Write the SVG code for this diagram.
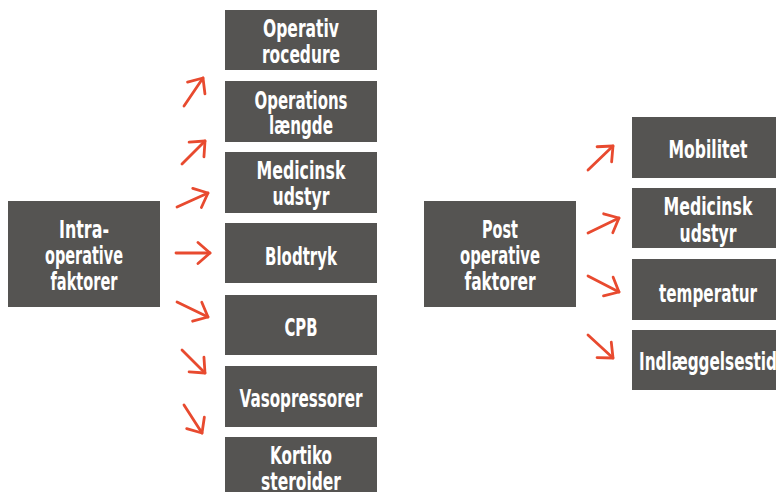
<svg xmlns="http://www.w3.org/2000/svg" width="776" height="492" viewBox="0 0 776 492">
  <defs>
    <style>
      .box { fill: #555452; }
      .t { font-family: "DejaVu Sans", "Liberation Sans", sans-serif; font-weight: bold; font-size: 25px; fill: #ffffff; text-anchor: middle; }
      .arr { fill: none; stroke: #e84a2f; stroke-width: 2.8; stroke-linecap: round; stroke-linejoin: round; }
    </style>
    <marker id="head" markerUnits="userSpaceOnUse" markerWidth="30" markerHeight="30" viewBox="-16 -15 20 30" refX="0" refY="0" orient="auto">
      <path d="M -12 -10.5 L 0 0 L -12 10.5" fill="none" stroke="#e84a2f" stroke-width="2.8" stroke-linecap="round" stroke-linejoin="round"/>
    </marker>
  </defs>
  <rect width="776" height="492" fill="#ffffff"/>

  <g id="intra">
    <rect class="box" x="8" y="201" width="152" height="106"/>
    <text class="t" x="84" y="238" textLength="50" lengthAdjust="spacingAndGlyphs">Intra-</text>
    <text class="t" x="84" y="264" textLength="78" lengthAdjust="spacingAndGlyphs">operative</text>
    <text class="t" x="84" y="290" textLength="67" lengthAdjust="spacingAndGlyphs">faktorer</text>
  </g>
  <g id="operativ">
    <rect class="box" x="225" y="10" width="152" height="60"/>
    <text class="t" x="301" y="37" textLength="76" lengthAdjust="spacingAndGlyphs">Operativ</text>
    <text class="t" x="301" y="63" textLength="78" lengthAdjust="spacingAndGlyphs">rocedure</text>
  </g>
  <g id="operations">
    <rect class="box" x="225" y="81" width="152" height="61"/>
    <text class="t" x="301" y="109" textLength="93" lengthAdjust="spacingAndGlyphs">Operations</text>
    <text class="t" x="301" y="134" textLength="64" lengthAdjust="spacingAndGlyphs">længde</text>
  </g>
  <g id="medicinsk1">
    <rect class="box" x="225" y="152" width="152" height="61"/>
    <text class="t" x="301" y="179" textLength="89" lengthAdjust="spacingAndGlyphs">Medicinsk</text>
    <text class="t" x="301" y="205" textLength="57" lengthAdjust="spacingAndGlyphs">udstyr</text>
  </g>
  <g id="blodtryk">
    <rect class="box" x="225" y="223" width="152" height="60"/>
    <text class="t" x="301" y="265" textLength="72" lengthAdjust="spacingAndGlyphs">Blodtryk</text>
  </g>
  <g id="cpb">
    <rect class="box" x="225" y="295" width="152" height="60"/>
    <text class="t" x="301" y="336" textLength="33" lengthAdjust="spacingAndGlyphs">CPB</text>
  </g>
  <g id="vasopressorer">
    <rect class="box" x="225" y="366" width="152" height="61"/>
    <text class="t" x="301" y="407" textLength="123" lengthAdjust="spacingAndGlyphs">Vasopressorer</text>
  </g>
  <g id="kortiko">
    <rect class="box" x="225" y="437" width="152" height="61"/>
    <text class="t" x="301" y="464" textLength="62" lengthAdjust="spacingAndGlyphs">Kortiko</text>
    <text class="t" x="301" y="490" textLength="80" lengthAdjust="spacingAndGlyphs">steroider</text>
  </g>

  <g id="post">
    <rect class="box" x="424" y="201" width="152" height="106"/>
    <text class="t" x="500" y="238" textLength="36" lengthAdjust="spacingAndGlyphs">Post</text>
    <text class="t" x="500" y="264" textLength="80" lengthAdjust="spacingAndGlyphs">operative</text>
    <text class="t" x="500" y="290" textLength="71" lengthAdjust="spacingAndGlyphs">faktorer</text>
  </g>
  <g id="mobilitet">
    <rect class="box" x="632" y="117" width="152" height="61"/>
    <text class="t" x="708" y="158" textLength="79" lengthAdjust="spacingAndGlyphs">Mobilitet</text>
  </g>
  <g id="medicinsk2">
    <rect class="box" x="632" y="188" width="152" height="60"/>
    <text class="t" x="708" y="215" textLength="89" lengthAdjust="spacingAndGlyphs">Medicinsk</text>
    <text class="t" x="708" y="242" textLength="57" lengthAdjust="spacingAndGlyphs">udstyr</text>
  </g>
  <g id="temperatur">
    <rect class="box" x="632" y="259" width="152" height="61"/>
    <text class="t" x="708" y="302" textLength="98" lengthAdjust="spacingAndGlyphs">temperatur</text>
  </g>
  <g id="indlaeggelsestid">
    <rect class="box" x="632" y="330" width="152" height="60"/>
    <text class="t" x="708" y="370" textLength="138" lengthAdjust="spacingAndGlyphs">Indlæggelsestid</text>
  </g>

  <g id="connectors">
    <path class="arr" marker-end="url(#head)" d="M 184 106 L 203 78"/>
    <path class="arr" marker-end="url(#head)" d="M 182 164 L 205 141"/>
    <path class="arr" marker-end="url(#head)" d="M 177 207 L 208 193"/>
    <path class="arr" marker-end="url(#head)" d="M 176 253 L 210 253"/>
    <path class="arr" marker-end="url(#head)" d="M 177 302 L 208 317"/>
    <path class="arr" marker-end="url(#head)" d="M 182 350 L 205 373"/>
    <path class="arr" marker-end="url(#head)" d="M 184 405 L 202 433"/>
    <path class="arr" marker-end="url(#head)" d="M 588 170 L 613 146"/>
    <path class="arr" marker-end="url(#head)" d="M 588 233 L 619 218"/>
    <path class="arr" marker-end="url(#head)" d="M 588 276 L 619 292"/>
    <path class="arr" marker-end="url(#head)" d="M 588 335 L 613 358"/>
  </g>
</svg>
